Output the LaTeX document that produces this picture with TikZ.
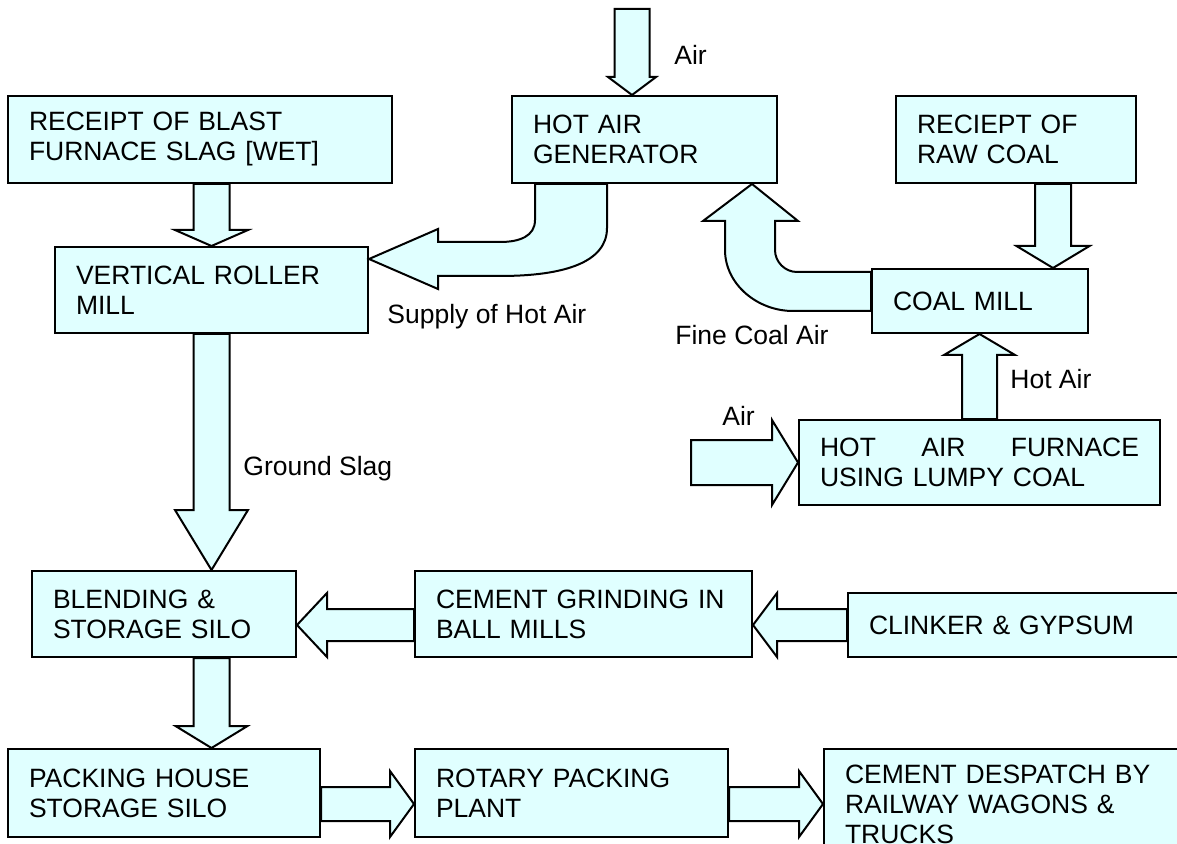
\documentclass[tikz,border=0pt]{standalone}
\usepackage{fontspec}
\setmainfont{Liberation Sans}
\usepackage{tikz}
\usetikzlibrary{calc}
\definecolor{boxfill}{HTML}{E0FFFF}

\newcommand{\stagebox}[6]{%
  \pgfmathsetmacro{\stgw}{(#4-#2)/2}
  \pgfmathsetmacro{\stgh}{(#5-#3)/2}
  \pgfmathsetmacro{\stgt}{(#4-#2)/2-21}
  \node[stage, anchor=north west, minimum width=\stgw pt, minimum height=\stgh pt,
        text width=\stgt pt] (#1) at (#2,#3) {#6};
}
\newcommand{\fatarrow}[5]{%
  \coordinate (fa-s) at (#4);
  \coordinate (fa-t) at (#5);
  \coordinate (fa-h) at ($(fa-t)!#3!(fa-s)$);
  \draw[fatarrow] ($(fa-s)!#1!-90:(fa-t)$) -- ($(fa-h)!#1!90:(fa-s)$)
    -- ($(fa-h)!#2!90:(fa-s)$) -- (fa-t) -- ($(fa-h)!#2!-90:(fa-s)$)
    -- ($(fa-h)!#1!-90:(fa-s)$) -- ($(fa-s)!#1!90:(fa-t)$) -- cycle;
}

\begin{document}
\begin{tikzpicture}[x=0.5pt, y=-0.5pt,
  stage/.style={rectangle, draw=black, fill=boxfill, line width=1pt,
                inner xsep=10.5pt, inner ysep=0pt, align=left,
                font=\fontsize{13.25}{15}\selectfont},
  flowlabel/.style={anchor=base west, inner sep=0pt,
                    font=\fontsize{13.25}{15}\selectfont},
  fatarrow/.style={draw=black, fill=boxfill, line width=1pt, line join=miter}]
  \useasboundingbox (0,0) rectangle (1177,844);

  \stagebox{slag}{7}{95}{391}{182}{RECEIPT OF BLAST\\FURNACE SLAG [WET]}
  \stagebox{hag}{511}{95}{776}{182}{HOT AIR\\GENERATOR}
  \stagebox{rawcoal}{895}{95}{1135}{182}{RECIEPT OF\\RAW COAL}
  \stagebox{vrm}{54}{246}{367}{332}{VERTICAL ROLLER\\MILL}
  \stagebox{coalmill}{871}{268}{1087}{332}{COAL MILL}
  \stagebox{furnace}{798}{419}{1159}{504}{HOT\hfill AIR\hfill FURNACE\\USING LUMPY COAL}
  \stagebox{blending}{31}{570}{295}{656}{BLENDING \&\\STORAGE SILO}
  \stagebox{grinding}{414}{570}{751}{656}{CEMENT GRINDING IN\\BALL MILLS}
  \stagebox{clinker}{847}{592}{1185}{656}{CLINKER \& GYPSUM}
  \stagebox{packing}{7}{748}{319}{836}{PACKING HOUSE\\STORAGE SILO}
  \stagebox{rotary}{414}{748}{727}{836}{ROTARY PACKING\\PLANT}
  \stagebox{despatch}{823}{748}{1185}{858}{CEMENT DESPATCH BY\\RAILWAY WAGONS \&\\TRUCKS}

  \fatarrow{8.75pt}{12pt}{9pt}{$(hag.north)+(-12.5,-86)$}{$(hag.north)+(-12.5,0)$}
  \fatarrow{9pt}{18.25pt}{8pt}{vrm.north |- slag.south}{vrm.north}
  \fatarrow{9pt}{18.25pt}{30pt}{vrm.south}{vrm.south |- blending.north}
  \fatarrow{9pt}{18pt}{11pt}{vrm.south |- blending.south}{vrm.south |- packing.north}
  \fatarrow{8pt}{16pt}{15pt}{$(grinding.west)+(0,11)$}{$(blending.east)+(0,11)$}
  \fatarrow{8pt}{16pt}{12pt}{clinker.west}{grinding.east |- clinker.west}
  \fatarrow{8.5pt}{16.5pt}{12pt}{$(packing.east)+(0,11)$}{$(rotary.west)+(0,11)$}
  \fatarrow{8.5pt}{16.5pt}{12pt}{$(rotary.east)+(0,11)$}{$(despatch.west |- rotary.east)+(0,11)$}
  \fatarrow{11.25pt}{21.25pt}{13pt}{$(furnace.west)+(-107,0)$}{furnace.west}
  \fatarrow{8.75pt}{17.75pt}{10.5pt}{furnace.north}{furnace.north |- coalmill.south}
  \coordinate (coalin) at ($(coalmill.north east)+(-36,0)$);
  \fatarrow{9pt}{18.25pt}{11pt}{coalin |- rawcoal.south}{coalin}

  % bent arrows
  \draw[fatarrow] ($(hag.south west)+(24,0)$) -- (535,220)
    .. controls (535,236) and (520,242) .. (500,242) -- (438,242) -- (438,229)
    -- ($(vrm.north east)+(0,13)$) -- (438,289) -- (438,276) -- (500,276)
    .. controls (565,276) and (607,262) .. (607,228)
    -- ($(hag.south west)+(96,0)$) -- cycle;
  \draw[fatarrow] ($(coalmill.north west)+(0,4)$) -- (797,272)
    .. controls (785,272) and (775,262) .. (775,250) -- (775,221) -- (798,221)
    -- ($(hag.south east)+(-26,0)$) -- (703,221) -- (725,221) -- (725,250)
    .. controls (725,284) and (757,311) .. (793,311)
    -- ($(coalmill.north west)+(0,43)$) -- cycle;

  \node[flowlabel] (airtop) at (674,65) {Air};
  \node[flowlabel] (supplylbl) at (387,324) {Supply of Hot Air};
  \node[flowlabel] (finelbl) at (675,345) {Fine Coal Air};
  \node[flowlabel] (hotairlbl) at (1010,388) {Hot Air};
  \node[flowlabel] (airfurn) at (722,425) {Air};
  \node[flowlabel] (slaglbl) at (243,475) {Ground Slag};
\end{tikzpicture}
\end{document}
